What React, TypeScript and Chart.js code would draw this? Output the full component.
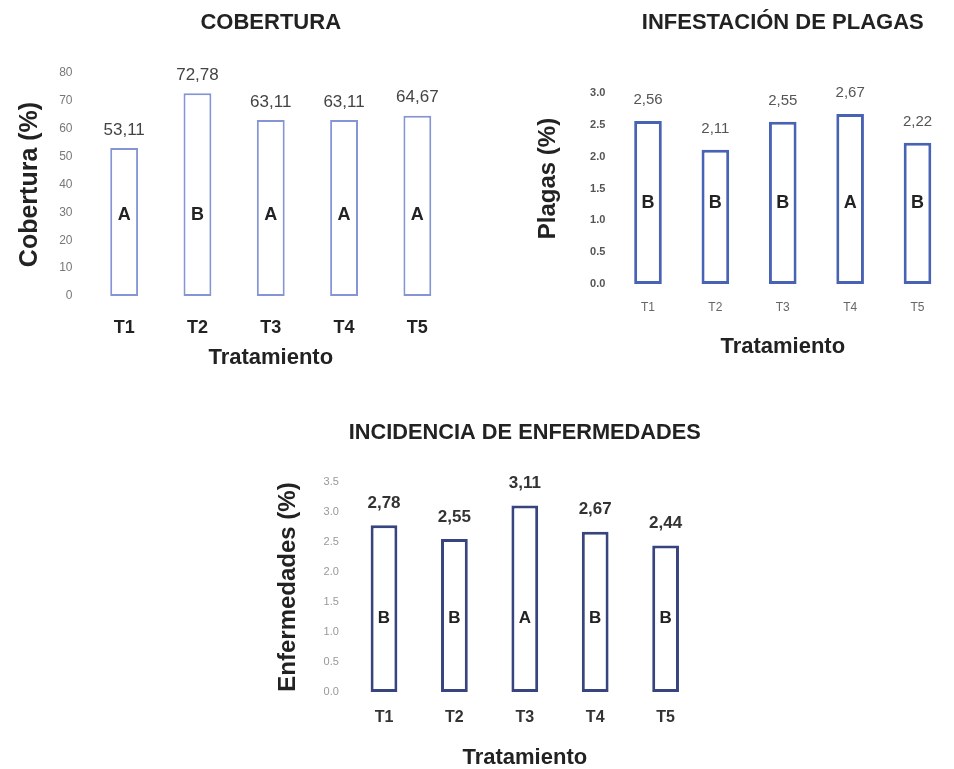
import React, { useEffect, useRef } from 'react';
import { Chart, registerables } from 'chart.js';

Chart.register(...registerables);

// Treatments on the x axis
const treatments = ['T1', 'T2', 'T3', 'T4', 'T5'];

// Cobertura (%)
const coberturaValues = [53.11, 72.78, 63.11, 63.11, 64.67];
const coberturaGroups = ['A', 'B', 'A', 'A', 'A'];

// Infestación de plagas (%)
const plagasValues = [2.56, 2.11, 2.55, 2.67, 2.22];
const plagasGroups = ['B', 'B', 'B', 'A', 'B'];

// Incidencia de enfermedades (%)
const enfermedadesValues = [2.78, 2.55, 3.11, 2.67, 2.44];
const enfermedadesGroups = ['B', 'B', 'A', 'B', 'B'];

const FONT = '"Liberation Sans", Arial, Helvetica, sans-serif';

type PanelSpec = {
  title: string;
  yTitle: string;
  values: number[];
  groups: string[];
  yMax: number;
  yStep: number;
  yDecimals: number;
  groupLevel: number;
  box: { left: number; top: number; width: number; height: number };
  yAxisWidth: number;
  xAxisHeight: number;
  padRight: number;
  titlePad: { top: number; bottom: number };
  yTitleFont: number;
  yTitlePad: number;
  xTitlePad: number;
  xTick: { size: number; bold: boolean; color: string; padding: number };
  yTick: { size: number; bold: boolean; color: string; padding: number };
  barPercentage: number;
  border: { color: string; width: number };
  valueLabel: { font: string; color: string; gap: number };
  groupLabel: { font: string; color: string };
};

const panels: PanelSpec[] = [
  {
    title: 'COBERTURA',
    yTitle: 'Cobertura (%)',
    values: coberturaValues,
    groups: coberturaGroups,
    yMax: 80,
    yStep: 10,
    yDecimals: 0,
    groupLevel: 29,
    box: { left: 0, top: 0, width: 477, height: 385 },
    yAxisWidth: 87.5,
    xAxisHeight: 89,
    padRight: 23,
    titlePad: { top: 12, bottom: 39 },
    yTitleFont: 25,
    yTitlePad: 17.5,
    xTitlePad: 16,
    xTick: { size: 18, bold: true, color: '#222', padding: 21 },
    yTick: { size: 12, bold: false, color: '#777', padding: 15 },
    barPercentage: 0.38,
    border: { color: '#8494d4', width: 2 },
    valueLabel: { font: `17px ${FONT}`, color: '#444', gap: 18 },
    groupLabel: { font: `bold 18px ${FONT}`, color: '#222' },
  },
  {
    title: 'INFESTACIÓN DE PLAGAS',
    yTitle: '   Plagas (%)',
    values: plagasValues,
    groups: plagasGroups,
    yMax: 3,
    yStep: 0.5,
    yDecimals: 1,
    groupLevel: 1.27,
    box: { left: 477, top: 0, width: 477, height: 385 },
    yAxisWidth: 137.3,
    xAxisHeight: 101,
    padRight: 2.8,
    titlePad: { top: 12, bottom: 59 },
    yTitleFont: 24,
    yTitlePad: 59,
    xTitlePad: 27,
    xTick: { size: 12, bold: false, color: '#666', padding: 16.8 },
    yTick: { size: 11, bold: true, color: '#555', padding: 9 },
    barPercentage: 0.41,
    border: { color: '#4862b4', width: 3 },
    valueLabel: { font: `15px ${FONT}`, color: '#555', gap: 21 },
    groupLabel: { font: `bold 18px ${FONT}`, color: '#222' },
  },
  {
    title: 'INCIDENCIA DE ENFERMEDADES',
    yTitle: 'Enfermedades (%)',
    values: enfermedadesValues,
    groups: enfermedadesGroups,
    yMax: 3.5,
    yStep: 0.5,
    yDecimals: 1,
    groupLevel: 1.23,
    box: { left: 240, top: 385, width: 480, height: 384 },
    yAxisWidth: 108.8,
    xAxisHeight: 77,
    padRight: 19.2,
    titlePad: { top: 37, bottom: 38 },
    yTitleFont: 24,
    yTitlePad: 36,
    xTitlePad: 0,
    xTick: { size: 16, bold: true, color: '#333', padding: 16.4 },
    yTick: { size: 11, bold: false, color: '#999', padding: 10 },
    barPercentage: 0.38,
    border: { color: '#38447e', width: 3 },
    valueLabel: { font: `bold 17px ${FONT}`, color: '#333', gap: 22 },
    groupLabel: { font: `bold 17px ${FONT}`, color: '#222' },
  },
];

// Draws the value above each bar and the significance letter inside it
function makeAnnotations(spec: PanelSpec) {
  return {
    id: 'barAnnotations',
    afterDatasetsDraw(chart: any) {
      const meta = chart.getDatasetMeta(0);
      const yScale = chart.scales.y;
      const ctx: CanvasRenderingContext2D = chart.ctx;
      ctx.save();
      ctx.textAlign = 'center';
      ctx.textBaseline = 'middle';
      meta.data.forEach((bar: any, i: number) => {
        const v = spec.values[i];
        ctx.font = spec.valueLabel.font;
        ctx.fillStyle = spec.valueLabel.color;
        ctx.fillText(v.toFixed(2).replace('.', ','), bar.x, bar.y - spec.valueLabel.gap);
        ctx.font = spec.groupLabel.font;
        ctx.fillStyle = spec.groupLabel.color;
        ctx.fillText(spec.groups[i], bar.x, yScale.getPixelForValue(spec.groupLevel));
      });
      ctx.restore();
    },
  };
}

function Panel({ spec }: { spec: PanelSpec }) {
  const ref = useRef<HTMLCanvasElement>(null);

  useEffect(() => {
    if (!ref.current) return;
    const chart = new Chart(ref.current, {
      type: 'bar',
      data: {
        labels: treatments,
        datasets: [
          {
            data: spec.values,
            backgroundColor: '#ffffff',
            borderColor: spec.border.color,
            borderWidth: spec.border.width,
            borderSkipped: false,
            barPercentage: spec.barPercentage,
            categoryPercentage: 1,
          },
        ],
      },
      options: {
        responsive: false,
        animation: false,
        layout: { padding: { left: 0, right: spec.padRight, top: 0, bottom: 0 } },
        plugins: {
          legend: { display: false },
          tooltip: { enabled: false },
          title: {
            display: true,
            text: spec.title,
            fullSize: false,
            color: '#222',
            font: { family: FONT, size: 22, weight: 'bold', lineHeight: 1 },
            padding: spec.titlePad,
          },
        },
        scales: {
          x: {
            grid: { display: false, drawTicks: false },
            border: { display: false },
            ticks: {
              color: spec.xTick.color,
              padding: spec.xTick.padding,
              font: { family: FONT, size: spec.xTick.size, weight: spec.xTick.bold ? 'bold' : 'normal' },
            },
            title: {
              display: true,
              text: 'Tratamiento',
              color: '#222',
              font: { family: FONT, size: 22, weight: 'bold', lineHeight: 1 },
              padding: { top: 0, bottom: spec.xTitlePad },
            },
            afterFit: (scale: any) => {
              scale.height = spec.xAxisHeight;
            },
          },
          y: {
            min: 0,
            max: spec.yMax,
            grid: { display: false, drawTicks: false },
            border: { display: false },
            ticks: {
              stepSize: spec.yStep,
              color: spec.yTick.color,
              padding: spec.yTick.padding,
              font: { family: FONT, size: spec.yTick.size, weight: spec.yTick.bold ? 'bold' : 'normal' },
              callback: (v: any) => Number(v).toFixed(spec.yDecimals),
            },
            title: {
              display: true,
              text: spec.yTitle,
              color: '#222',
              font: { family: FONT, size: spec.yTitleFont, weight: 'bold', lineHeight: 1 },
              padding: { top: spec.yTitlePad, bottom: 0 },
            },
            afterFit: (scale: any) => {
              scale.width = spec.yAxisWidth;
            },
          },
        },
      },
      plugins: [makeAnnotations(spec)],
    } as any);
    return () => chart.destroy();
  }, [spec]);

  return (
    <div style={{ position: 'absolute', left: spec.box.left, top: spec.box.top }}>
      <canvas
        ref={ref}
        width={spec.box.width}
        height={spec.box.height}
        style={{ display: 'block', width: spec.box.width, height: spec.box.height }}
      />
    </div>
  );
}

export default function App() {
  return (
    <div
      style={{
        position: 'absolute',
        left: 0,
        top: 0,
        width: 954,
        height: 769,
        overflow: 'hidden',
        background: '#ffffff',
      }}
    >
      {panels.map((p) => (
        <Panel key={p.title} spec={p} />
      ))}
    </div>
  );
}
